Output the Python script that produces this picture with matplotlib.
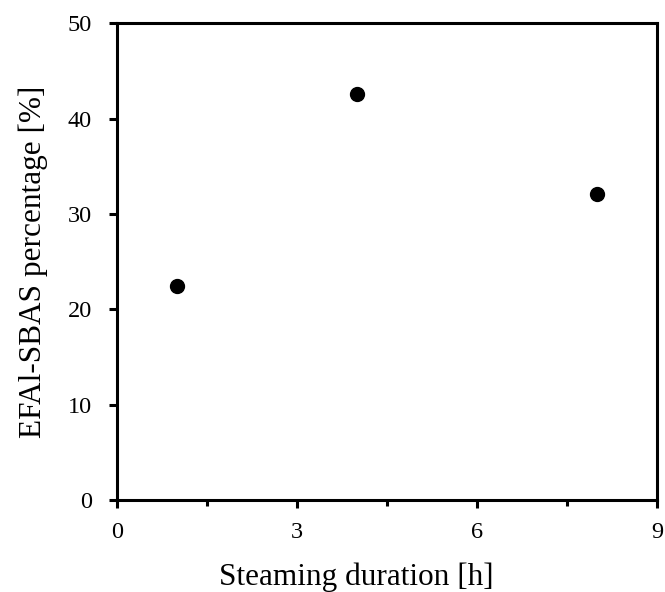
import matplotlib
matplotlib.use("Agg")
import matplotlib.pyplot as plt
from matplotlib.ticker import MultipleLocator

plt.rcParams['font.family'] = ['Liberation Serif', 'DejaVu Serif']

# Steaming duration (h) vs EFAl-SBAS fraction (%)
duration_h = [1, 4, 8]
efal_sbas_pct = [22.4, 42.6, 32.1]

fig = plt.figure(figsize=(6.65, 5.92), dpi=100)
ax = fig.add_axes([0.176, 0.155, 0.812, 0.806])

ax.plot(duration_h, efal_sbas_pct, 'o', color='black', markersize=10, linestyle='none')

ax.set_xlim(0, 9)
ax.set_ylim(0, 50)
ax.xaxis.set_major_locator(MultipleLocator(3))
ax.xaxis.set_minor_locator(MultipleLocator(1.5))
ax.yaxis.set_major_locator(MultipleLocator(10))

for s in ax.spines.values():
    s.set_linewidth(2.2)
ax.tick_params(which='major', direction='out', length=6, width=2.2, labelsize=17.5)
ax.tick_params(axis='x', which='major', pad=10)
ax.tick_params(axis='y', which='major', pad=12)
ax.tick_params(which='minor', direction='out', length=4, width=2.2)

ax.set_xlabel('Steaming duration [h]', fontsize=22.5, labelpad=14)
ax.xaxis.set_label_coords(0.443, -0.131)
ax.set_ylabel('EFAl-SBAS percentage [%]', fontsize=22.5, labelpad=14)

fig.savefig('out.png', dpi=100)
